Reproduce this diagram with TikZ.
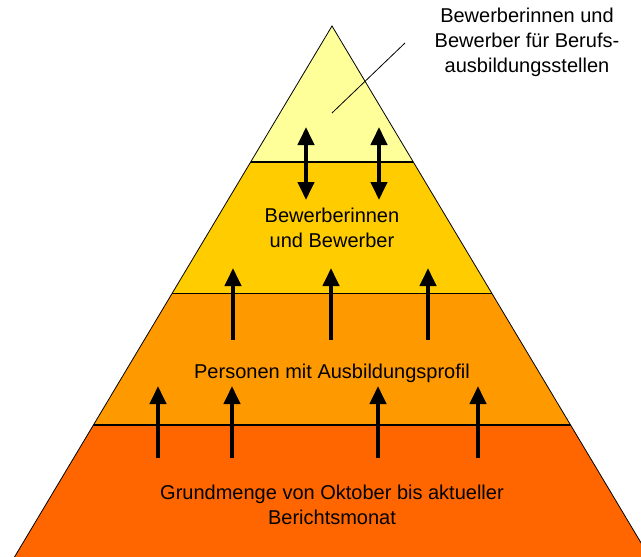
\documentclass[tikz,border=0pt]{standalone}
\usepackage{fontspec}
\setmainfont{Liberation Sans}
\usetikzlibrary{arrows.meta}
\definecolor{stufeA}{HTML}{FFFF99}
\definecolor{stufeB}{HTML}{FFCC00}
\definecolor{stufeC}{HTML}{FF9900}
\definecolor{stufeD}{HTML}{FF6600}
\begin{document}
\begin{tikzpicture}[x=1pt, y=-1pt,
  every node/.style = {align=center, inner sep=0pt,
    font=\fontsize{20}{25}\selectfont},
  pfeil/.style = {line width=4pt, -{Triangle[width=16pt,length=18pt]}},
  doppelpfeil/.style = {line width=4pt,
    {Triangle[width=16pt,length=18pt]}-{Triangle[width=16pt,length=18pt]}}]
  \useasboundingbox (0,0) rectangle (641,557);
  \clip (0,0) rectangle (641,557);
  \coordinate (spitze) at (332,26);
  \coordinate (linksunten) at (14.5,557);
  \coordinate (rechtsunten) at (649.5,557);
  \begin{scope}
    \clip (spitze) -- (linksunten) -- (rechtsunten) -- cycle;
    \fill[stufeD] (0,425) rectangle (660,560);
    \fill[stufeC] (0,293.5) rectangle (660,425);
    \fill[stufeB] (0,162) rectangle (660,293.5);
    \fill[stufeA] (0,0) rectangle (660,162);
    \foreach \y in {162,293.5,425}
      \draw[line width=1.5pt] (0,\y) -- (660,\y);
  \end{scope}
  \draw[line width=0.8pt] (linksunten) -- (spitze) -- (rechtsunten);
  \node (basis) at (332,504.5) {Grundmenge von Oktober bis aktueller\\Berichtsmonat};
  \node (profil) at (332,373) {Personen mit Ausbildungsprofil};
  \node (bewerber) at (332,227.5) {Bewerberinnen\\und Bewerber};
  \node (stellen) at (527,42) {Bewerberinnen und\\Bewerber für Berufs-\\ausbildungsstellen};
  \coordinate (zeigerende) at (405,43);
  \coordinate (zeiger) at (332,113);
  \draw[line width=0.8pt] (zeigerende) -- (zeiger);
  \foreach \x [count=\i] in {306,379} {
    \coordinate (d\i-oben) at (\x,127);
    \coordinate (d\i-unten) at (\x,200);
    \draw[doppelpfeil] (d\i-oben) -- (d\i-unten);
  }
  \foreach \x [count=\i] in {233,331,428} {
    \coordinate (m\i-unten) at (\x,340);
    \coordinate (m\i-oben) at (\x,268);
    \draw[pfeil] (m\i-unten) -- (m\i-oben);
  }
  \foreach \x [count=\i] in {158,232,378,478} {
    \coordinate (g\i-unten) at (\x,458);
    \coordinate (g\i-oben) at (\x,386);
    \draw[pfeil] (g\i-unten) -- (g\i-oben);
  }
\end{tikzpicture}
\end{document}
